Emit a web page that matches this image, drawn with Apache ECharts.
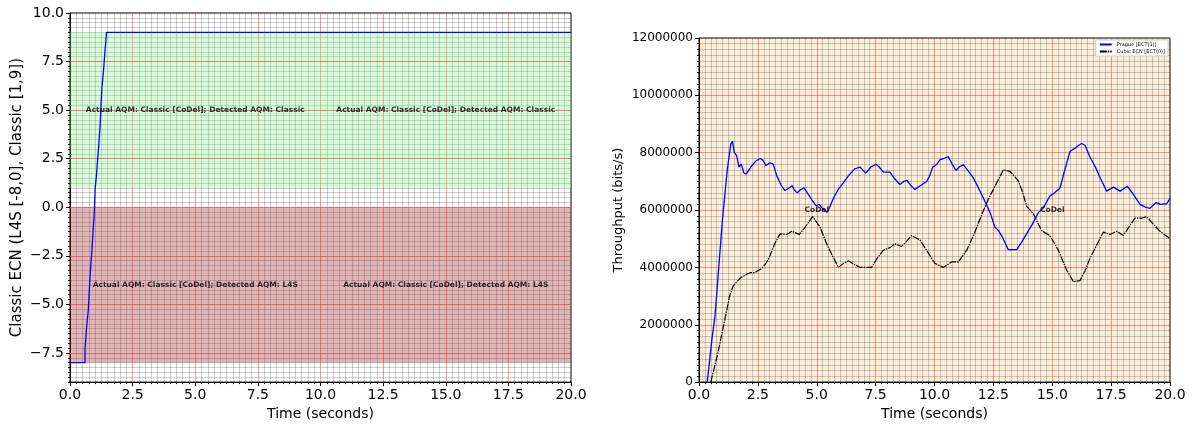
<!DOCTYPE html>
<html><head><meta charset="utf-8">
<script src="https://cdn.jsdelivr.net/npm/echarts@6/dist/echarts.min.js"></script>
<style>html,body{margin:0;padding:0;background:#fff}#c{width:1195px;height:426px}</style>
</head><body><div id="c"></div>
<script>
// ---- Left chart: detection state (step line) ----
const leftTime  = [0, 0.6, 0.67, 0.73, 0.8, 0.87, 0.93, 0.97, 1.0, 1.06, 1.13, 1.2, 1.27, 1.33, 1.4, 1.46, 20];
const leftValue = [-8, -7.3, -6.05, -5.3, -3.55, -2.3, -1.05, -0.3, 0.9, 1.7, 2.9, 4.15, 6.1, 6.9, 8.1, 9, 9];
const bandL4S = [-8, 0];
const bandClassic = [1, 9];
const leftYMajor = [-7.5, -5, -2.5, 0, 2.5, 5, 7.5, 10];
const leftTexts = [
  {x: 5, y: 5, text: 'Actual AQM: Classic [CoDel]; Detected AQM: Classic'},
  {x: 15, y: 5, text: 'Actual AQM: Classic [CoDel]; Detected AQM: Classic'},
  {x: 5, y: -4, text: 'Actual AQM: Classic [CoDel]; Detected AQM: L4S'},
  {x: 15, y: -4, text: 'Actual AQM: Classic [CoDel]; Detected AQM: L4S'}
];
// ---- Right chart: throughput ----
const pragueTime = [0.35,0.55,0.68,0.82,1.0,1.2,1.35,1.42,1.5,1.6,1.7,1.8,1.9,2.0,2.2,2.4,2.6,2.7,2.85,3.0,3.15,3.3,3.5,3.65,3.8,3.95,4.05,4.17,4.3,4.45,4.6,4.8,4.97,5.1,5.25,5.45,5.55,5.7,5.9,6.13,6.35,6.62,6.84,6.95,7.08,7.3,7.52,7.65,7.83,8.11,8.3,8.53,8.7,8.82,9.0,9.17,9.4,9.67,9.8,9.92,10.1,10.23,10.4,10.59,10.75,10.91,11.05,11.22,11.4,11.65,11.85,12.07,12.36,12.57,12.7,12.85,13.0,13.13,13.49,13.7,13.91,14.15,14.41,14.6,14.9,15.1,15.33,15.5,15.75,15.95,16.1,16.25,16.39,16.6,16.82,17.05,17.31,17.6,17.88,18.19,18.4,18.73,18.95,19.15,19.41,19.6,19.86,20.0];
const pragueRate = [0,1500000,2300000,3800000,5700000,7400000,8300000,8400000,8000000,7900000,7500000,7600000,7300000,7250000,7500000,7700000,7800000,7750000,7550000,7650000,7600000,7200000,6850000,6680000,6750000,6850000,6700000,6600000,6700000,6780000,6600000,6350000,6150000,6200000,6050000,5920000,6100000,6400000,6700000,6950000,7200000,7440000,7500000,7400000,7290000,7500000,7600000,7500000,7320000,7320000,7100000,6890000,7000000,7040000,6850000,6720000,6850000,7000000,7200000,7490000,7600000,7750000,7800000,7860000,7600000,7380000,7500000,7580000,7400000,7120000,6800000,6430000,5910000,5400000,5300000,5110000,4850000,4620000,4620000,4880000,5170000,5500000,5910000,6050000,6490000,6600000,6770000,7300000,8040000,8150000,8250000,8320000,8260000,7850000,7520000,7100000,6660000,6800000,6660000,6830000,6600000,6200000,6100000,6060000,6260000,6200000,6220000,6410000];
const cubicTime = [0.5,0.8,1.1,1.3,1.45,1.53,1.74,2.0,2.2,2.38,2.66,2.85,3.01,3.2,3.44,3.72,3.94,4.26,4.5,4.83,5.14,5.42,5.7,5.92,6.15,6.34,6.6,6.84,7.1,7.33,7.55,7.83,8.11,8.32,8.61,8.8,9.03,9.38,9.7,10.02,10.37,10.73,11.01,11.37,11.7,12.07,12.3,12.57,12.92,13.21,13.56,13.75,13.91,14.2,14.55,14.9,15.26,15.61,15.9,16.18,16.4,16.6,16.9,17.17,17.45,17.74,18.02,18.25,18.51,18.8,19.01,19.3,19.55,20.0];
const cubicRate = [0,1000000,2200000,3000000,3350000,3430000,3620000,3750000,3820000,3820000,3960000,4150000,4400000,4800000,5170000,5150000,5260000,5150000,5400000,5770000,5400000,4820000,4350000,4000000,4150000,4230000,4100000,4000000,4000000,4000000,4300000,4600000,4690000,4820000,4730000,4900000,5110000,4960000,4550000,4140000,4000000,4190000,4190000,4600000,5200000,5970000,6400000,6830000,7400000,7350000,7020000,6600000,6140000,5860000,5280000,5110000,4600000,3910000,3500000,3540000,3900000,4310000,4800000,5230000,5150000,5260000,5110000,5400000,5720000,5720000,5770000,5500000,5280000,5000000];
const rightTexts = [{x: 5, y: 6000000, text: 'CoDel'}, {x: 15, y: 6000000, text: 'CoDel'}];
const seriesNames = ['Prague [ECT(1)]', 'Cubic ECN [ECT(0)]'];

const FONT = 'DejaVu Sans';
const MAJOR = 'rgba(240,70,70,0.55)';
const MINOR = 'rgba(60,60,60,0.32)';
const isMajor = v => Math.abs(v / 2.5 - Math.round(v / 2.5)) < 1e-6;
const fmt1 = v => (v < 0 ? '\u2212' : '') + Math.abs(v).toFixed(1);
const zip = (a, b) => a.map((t, i) => [t, b[i]]);

function timeAxis(grid, gap) {
  return {
    type: 'value', gridIndex: grid, min: 0, max: 20, interval: 2.5,
    name: 'Time (seconds)', nameLocation: 'middle', nameGap: gap,
    nameTextStyle: {fontFamily: FONT, fontSize: 14, color: '#000'},
    axisLine: {show: true, onZero: false, lineStyle: {color: '#000', width: 1}},
    axisTick: {show: true, length: 4, lineStyle: {color: '#000'}},
    minorTick: {show: true, splitNumber: 10, length: 2, lineStyle: {color: '#000'}},
    axisLabel: {fontFamily: FONT, fontSize: 14, color: '#000', margin: 6, formatter: fmt1},
    splitLine: {show: true, showMinLine: false, showMaxLine: false, lineStyle: {color: MAJOR, width: 1}},
    minorSplitLine: {show: true, lineStyle: {color: MINOR, width: 0.8}}
  };
}

const option = {
  animation: false,
  backgroundColor: '#fff',
  textStyle: {fontFamily: FONT},
  grid: [
    {left: 70, top: 13, width: 501, height: 370, show: true, borderColor: '#000', borderWidth: 1, backgroundColor: 'transparent'},
    {left: 699, top: 38, width: 471, height: 349, show: true, borderColor: '#000', borderWidth: 1, backgroundColor: 'rgba(245,222,179,0.5)'}
  ],
  legend: {
    data: seriesNames, orient: 'vertical', right: 27, top: 40,
    itemWidth: 12, itemHeight: 2, itemGap: 2, padding: [2, 3],
    backgroundColor: '#fff', borderColor: '#ccc', borderWidth: 1,
    textStyle: {fontFamily: FONT, fontSize: 5, color: '#000'}
  },
  xAxis: [timeAxis(0, 22), timeAxis(1, 19)],
  yAxis: [
    {
      type: 'value', gridIndex: 0, min: -9, max: 10, interval: 0.25,
      name: 'Classic ECN (L4S [-8,0], Classic [1,9])', nameLocation: 'middle', nameGap: 45,
      nameTextStyle: {fontFamily: FONT, fontSize: 15, color: '#000'},
      axisLine: {show: true, lineStyle: {color: '#000', width: 1}},
      axisTick: {show: true, length: 2, lineStyle: {color: '#000'}},
      axisLabel: {fontFamily: FONT, fontSize: 14, color: '#000', margin: 6,
        formatter: v => isMajor(v) ? fmt1(v) : ''},
      splitLine: {show: true, showMinLine: false, showMaxLine: false, lineStyle: {color: MINOR, width: 0.8}}
    },
    {
      type: 'value', gridIndex: 0, min: -9, max: 10, position: 'left',
      axisLine: {show: false},
      axisTick: {show: true, length: 4, customValues: leftYMajor, lineStyle: {color: '#000'}},
      axisLabel: {show: false}, splitLine: {show: false}
    },
    {
      type: 'value', gridIndex: 1, min: 0, max: 12000000, interval: 2000000,
      name: 'Throughput (bits/s)', nameLocation: 'middle', nameGap: 74,
      nameTextStyle: {fontFamily: FONT, fontSize: 13, color: '#000'},
      axisLine: {show: true, lineStyle: {color: '#000', width: 1}},
      axisTick: {show: true, length: 4, lineStyle: {color: '#000'}},
      minorTick: {show: true, splitNumber: 10, length: 2, lineStyle: {color: '#000'}},
      axisLabel: {fontFamily: FONT, fontSize: 12, color: '#000', margin: 6, formatter: v => String(v)},
      splitLine: {show: true, showMinLine: false, showMaxLine: false, lineStyle: {color: MAJOR, width: 1}},
      minorSplitLine: {show: true, lineStyle: {color: MINOR, width: 0.8}}
    }
  ],
  series: [
    {
      type: 'line', xAxisIndex: 0, yAxisIndex: 0, step: 'end', symbol: 'none',
      data: zip(leftTime, leftValue), lineStyle: {color: '#0000ff', width: 1.3}, z: 5,
      markArea: {silent: true, data: [
        [{yAxis: bandL4S[0], itemStyle: {color: 'rgba(165,42,42,0.35)'}}, {yAxis: bandL4S[1]}],
        [{yAxis: bandClassic[0], itemStyle: {color: 'rgba(144,238,144,0.35)'}}, {yAxis: bandClassic[1]}]
      ]},
      markLine: {silent: true, symbol: 'none', label: {show: false},
        lineStyle: {color: MAJOR, width: 1, type: 'solid'},
        data: leftYMajor.filter(v => v < 10).map(v => ({yAxis: v}))}
    },
    {
      type: 'scatter', xAxisIndex: 0, yAxisIndex: 0, symbolSize: 0, z: 6,
      data: leftTexts.map(d => ({value: [d.x, d.y], name: d.text})),
      label: {show: true, position: 'inside', formatter: p => p.name,
        fontFamily: FONT, fontSize: 7.5, fontWeight: 'bold', color: '#000'}
    },
    {
      name: seriesNames[0], type: 'line', xAxisIndex: 1, yAxisIndex: 2, symbol: 'none',
      data: zip(pragueTime, pragueRate), lineStyle: {color: '#0000ff', width: 1.3},
      itemStyle: {color: '#0000ff'}, z: 5
    },
    {
      name: seriesNames[1], type: 'line', xAxisIndex: 1, yAxisIndex: 2, symbol: 'none',
      data: zip(cubicTime, cubicRate), lineStyle: {color: '#000', width: 1.2, type: [7, 1, 1.5, 1]},
      itemStyle: {color: '#000'}, z: 4
    },
    {
      type: 'scatter', xAxisIndex: 1, yAxisIndex: 2, symbolSize: 0, z: 6,
      data: rightTexts.map(d => ({value: [d.x, d.y], name: d.text})),
      label: {show: true, position: 'inside', formatter: p => p.name,
        fontFamily: FONT, fontSize: 7.5, fontWeight: 'bold', color: '#000'}
    }
  ]
};
echarts.init(document.getElementById('c'), null, {renderer: 'canvas'}).setOption(option);
</script></body></html>
